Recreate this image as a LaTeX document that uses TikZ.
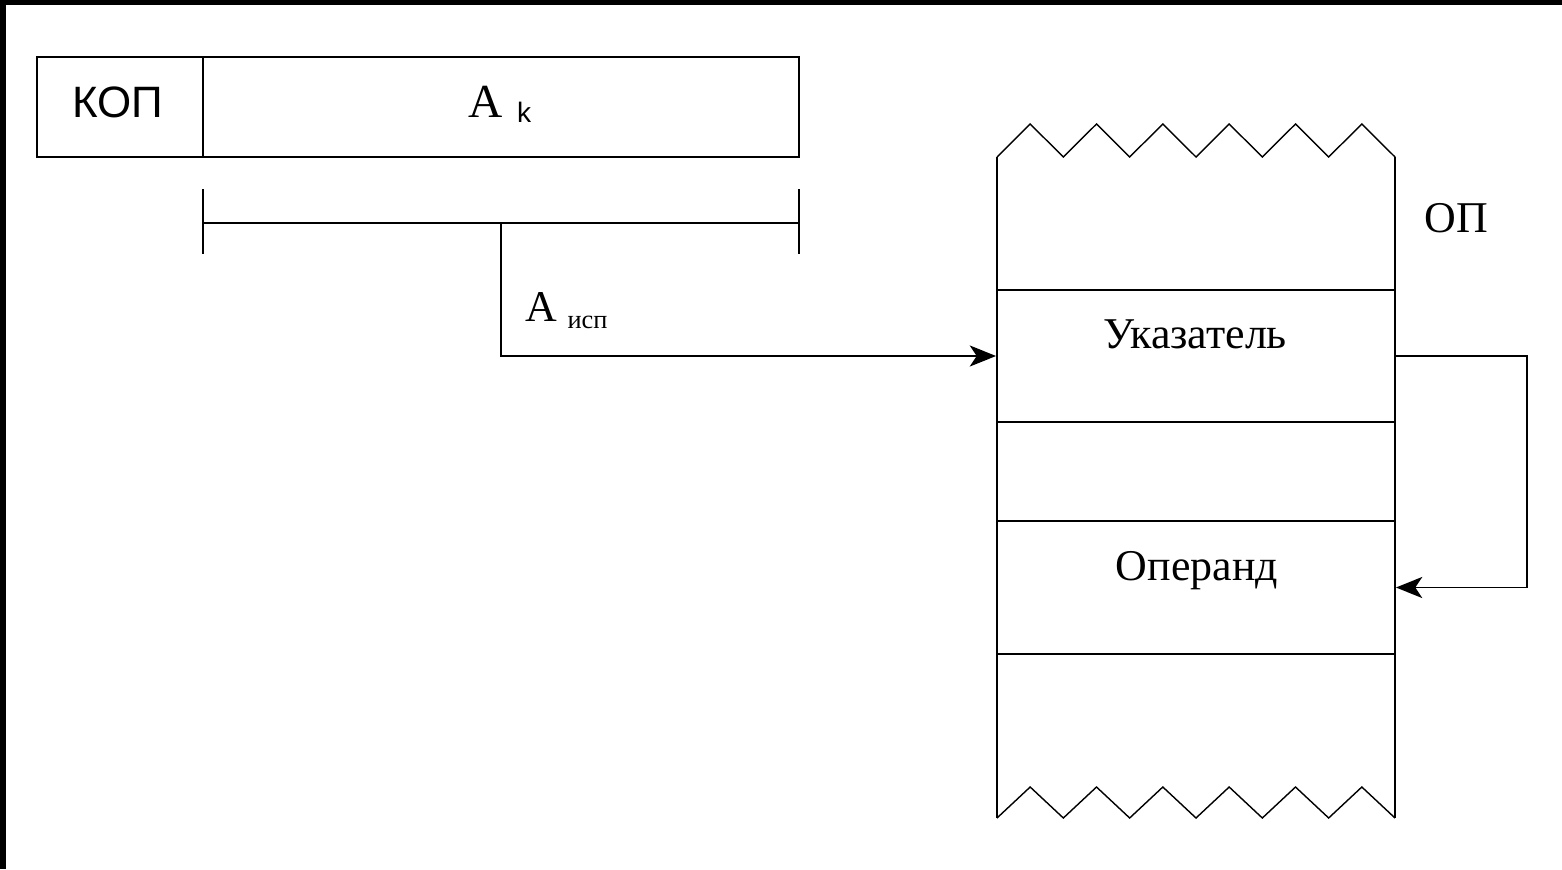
\documentclass[tikz,border=0pt]{standalone}
\usepackage{fontspec}
\setmainfont{Liberation Serif}
\setsansfont{Liberation Sans}
\usetikzlibrary{arrows.meta}
\begin{document}
\begin{tikzpicture}[x=0.02cm,y=-0.02cm,
  line/.style={line width=1.1pt},
  thin zig/.style={line width=0.8pt, line join=miter},
  cell/.style={draw, line width=1.1pt, rectangle, inner sep=0pt, minimum width=7.96cm},
  fld/.style={draw, line width=1.1pt, rectangle, inner sep=0pt, minimum height=2cm},
  serif txt/.style={font=\fontsize{25}{30}\selectfont, inner sep=0pt, anchor=base},
  sans txt/.style={font=\sffamily\fontsize{25}{30}\selectfont, inner sep=0pt, anchor=base},
  arr/.style={line width=1.1pt, -{Stealth[length=15pt, width=12pt, inset=4pt]}}]
\useasboundingbox (0,0) rectangle (1562,869);
% black frame strips
\fill[black] (0,0) rectangle (1562,5);
\fill[black] (0,0) rectangle (6,869);
% instruction word
\node[fld, minimum width=3.32cm] (kop) at (120,107) {};
\node[fld, minimum width=11.92cm] (ak) at (501,107) {};
\node[sans txt] (koptxt) at (118,117) {КОП};
\node[inner sep=0pt, anchor=base] (aktxt) at (500,117)
  {\fontsize{27}{30}\selectfont A\hspace{8pt}\raisebox{-3.4pt}{\sffamily\fontsize{16}{16}\selectfont k}};
% bracket
\coordinate (bl) at (203,223);
\coordinate (br) at (799,223);
\coordinate (bm) at (501,223);
\draw[line] (bl) -- (br);
\draw[line] (203,189) -- (203,254);
\draw[line] (799,189) -- (799,254);
% memory column
\node[cell, minimum height=2.64cm] (ptr) at (1196,356) {};
\node[cell, minimum height=1.98cm] (empty) at (1196,471.5) {};
\node[cell, minimum height=2.66cm] (oper) at (1196,587.5) {};
\draw[line] (997,157) -- (997,818);
\draw[line] (1395,157) -- (1395,818);
\draw[thin zig] (997,157)
  \foreach \k in {1,...,12} { -- ({997+33.1667*\k}, {isodd(\k) ? 124 : 157}) };
\draw[thin zig] (997,818)
  \foreach \k in {1,...,12} { -- ({997+33.1667*\k}, {isodd(\k) ? 787 : 818}) };
\node[serif txt] (ptrtxt) at (1195,348) {Указатель};
\node[serif txt] (opertxt) at (1197,580) {Операнд};
\node[serif txt] (optxt) at (1456,232) {ОП};
% address label
\node[inner sep=0pt, anchor=base west] (aisp) at (525,321)
  {\fontsize{25}{30}\selectfont A\hspace{6pt}\raisebox{-4pt}{\fontsize{15}{15}\selectfont исп}};
% connectors
\draw[arr] (bm) |- (ptr.west);
\draw[arr] (ptr.east) -- (1527,356) |- (oper.east);
\end{tikzpicture}
\end{document}
